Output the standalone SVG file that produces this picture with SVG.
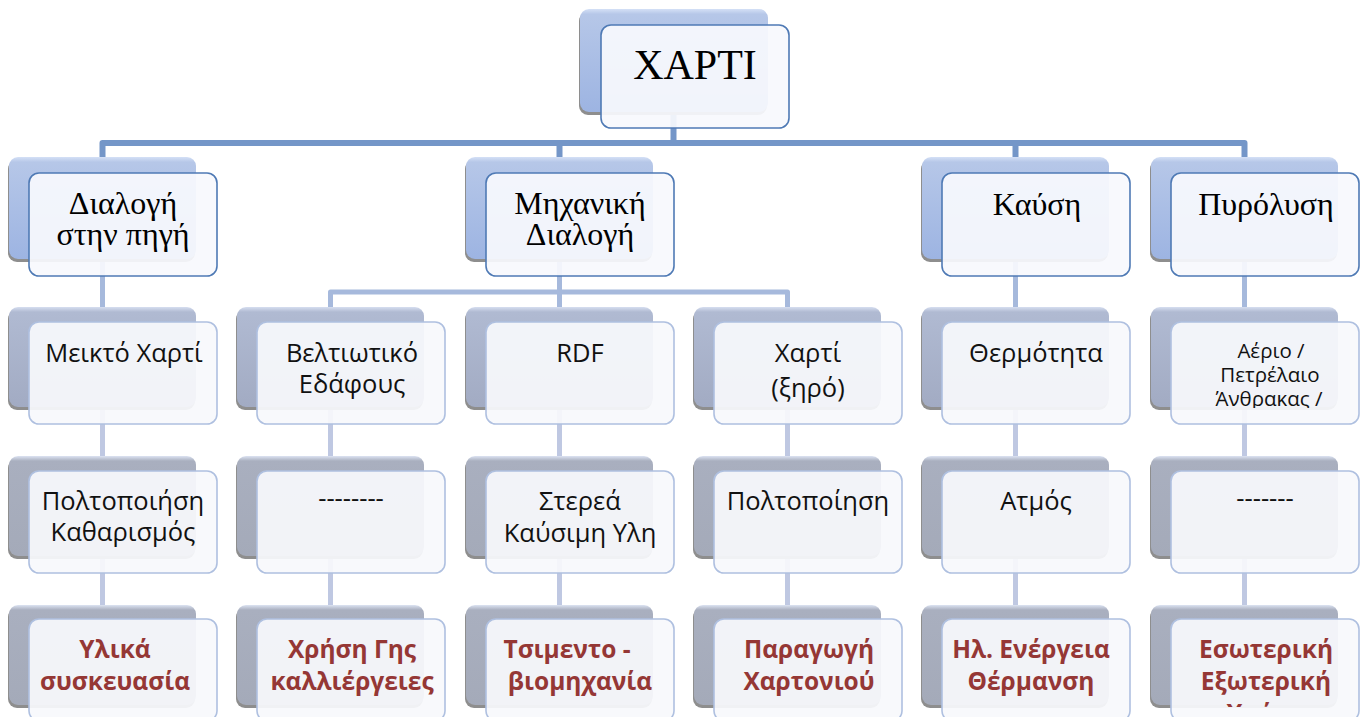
<svg xmlns="http://www.w3.org/2000/svg" width="1365" height="717" viewBox="0 0 1365 717">
  <defs>
    <linearGradient id="gBlue" x1="0" y1="0" x2="0" y2="1">
      <stop offset="0" stop-color="#d4e0f6"/>
      <stop offset="0.05" stop-color="#b6c7e8"/>
      <stop offset="1" stop-color="#9db4e2"/>
    </linearGradient>
    <linearGradient id="gSlate" x1="0" y1="0" x2="0" y2="1">
      <stop offset="0" stop-color="#d6def0"/>
      <stop offset="0.05" stop-color="#b0bad2"/>
      <stop offset="1" stop-color="#a2abc3"/>
    </linearGradient>
    <linearGradient id="gGray" x1="0" y1="0" x2="0" y2="1">
      <stop offset="0" stop-color="#dce3f2"/>
      <stop offset="0.05" stop-color="#a9afbf"/>
      <stop offset="1" stop-color="#a4aab9"/>
    </linearGradient>
    <clipPath id="clipL2"><rect x="0" y="300" width="1365" height="108"/></clipPath>
    <clipPath id="clipL4"><rect x="0" y="600" width="1365" height="107"/></clipPath>
  </defs>
  <style>
    .shadow { fill: #8e8e8e; }
    .back-blue { fill: url(#gBlue); }
    .back-slate { fill: url(#gSlate); }
    .back-gray { fill: url(#gGray); }
    .front-main { fill: #f8f9fd; fill-opacity: 0.93; stroke: #4f7ab5; stroke-width: 1.6; }
    .front-sub { fill: #f8f9fc; fill-opacity: 0.93; stroke: #afc0e0; stroke-width: 1.6; }
    .serif { font-family: "Liberation Serif", "Times New Roman", serif; fill: #000; text-anchor: middle; }
    .sans { font-family: "Open Sans", "Noto Sans", sans-serif; font-size: 25.5px; fill: #111; text-anchor: middle; }
    .small { font-size: 20.5px; }
    .result { font-family: "Open Sans", "Noto Sans", sans-serif; font-size: 24.5px; font-weight: bold; fill: #953735; text-anchor: middle; }
    .conn-main { fill: none; stroke: #7496c8; stroke-width: 6; stroke-linejoin: round; }
    .conn-mid { fill: none; stroke: #a6b9dc; stroke-width: 5; stroke-linejoin: round; }
    .conn-low { fill: none; stroke: #bfc8e2; stroke-width: 5; }
  </style>

  <!-- connectors -->
  <g id="connectors">
    <path class="conn-main" d="M673.5 113 V143 H102.5 V160 M673.5 143 H1244.5 V160 M559.5 143 V160 M1015.5 143 V160"/>
    <path class="conn-mid" d="M102.5 259 V310 M559.5 259 V292 H330.5 V310 M559.5 292 H787.5 V310 M559.5 292 V310 M1015.5 259 V310 M1244.5 259 V310"/>
    <path class="conn-low" d="M102.5 405 V460 M330.5 405 V460 M559.5 405 V460 M787.5 405 V460 M1015.5 405 V460 M1244.5 405 V460
                              M102.5 555 V608 M330.5 555 V608 M559.5 555 V608 M787.5 555 V608 M1015.5 555 V608 M1244.5 555 V608"/>
  </g>

  <!-- root -->
  <g id="node-root">
    <rect class="shadow" x="579" y="12" width="188" height="103" rx="9"/>
    <rect class="back-blue" x="580" y="9" width="188" height="103" rx="9"/>
    <rect class="front-main" x="601" y="25" width="188" height="103" rx="10"/>
    <text class="serif" x="695" y="79" font-size="42">ΧΑΡΤΙ</text>
  </g>

  <!-- level 1 -->
  <g id="node-source-sorting">
    <rect class="shadow" x="8" y="160" width="187" height="102" rx="9"/>
    <rect class="back-blue" x="9" y="157" width="187" height="102" rx="9"/>
    <rect class="front-main" x="29" y="173" width="188" height="103" rx="10"/>
    <text class="serif" font-size="32"><tspan x="123" y="214">Διαλογή</tspan><tspan x="123" y="245">στην πηγή</tspan></text>
  </g>
  <g id="node-mechanical-sorting">
    <rect class="shadow" x="465" y="160" width="187" height="102" rx="9"/>
    <rect class="back-blue" x="466" y="157" width="187" height="102" rx="9"/>
    <rect class="front-main" x="486" y="173" width="188" height="103" rx="10"/>
    <text class="serif" font-size="32"><tspan x="580" y="214">Μηχανική</tspan><tspan x="580" y="245">Διαλογή</tspan></text>
  </g>
  <g id="node-combustion">
    <rect class="shadow" x="921" y="160" width="187" height="102" rx="9"/>
    <rect class="back-blue" x="922" y="157" width="187" height="102" rx="9"/>
    <rect class="front-main" x="942" y="173" width="188" height="103" rx="10"/>
    <text class="serif" font-size="32" x="1037" y="215">Καύση</text>
  </g>
  <g id="node-pyrolysis">
    <rect class="shadow" x="1150" y="160" width="187" height="102" rx="9"/>
    <rect class="back-blue" x="1151" y="157" width="187" height="102" rx="9"/>
    <rect class="front-main" x="1171" y="173" width="188" height="103" rx="10"/>
    <text class="serif" font-size="32" x="1266" y="215">Πυρόλυση</text>
  </g>

  <!-- level 2 -->
  <g id="node-mixed-paper">
    <rect class="shadow" x="8" y="310" width="187" height="100" rx="9"/>
    <rect class="back-slate" x="9" y="307" width="187" height="100" rx="9"/>
    <rect class="front-sub" x="29" y="322" width="188" height="102" rx="10"/>
    <text class="sans" x="124" y="362" clip-path="url(#clipL2)">Μεικτό Χαρτί</text>
  </g>
  <g id="node-soil-improver">
    <rect class="shadow" x="236" y="310" width="187" height="100" rx="9"/>
    <rect class="back-slate" x="237" y="307" width="187" height="100" rx="9"/>
    <rect class="front-sub" x="257" y="322" width="188" height="102" rx="10"/>
    <text class="sans" clip-path="url(#clipL2)"><tspan x="352" y="362">Βελτιωτικό</tspan><tspan x="352" y="393">Εδάφους</tspan></text>
  </g>
  <g id="node-rdf">
    <rect class="shadow" x="465" y="310" width="187" height="100" rx="9"/>
    <rect class="back-slate" x="466" y="307" width="187" height="100" rx="9"/>
    <rect class="front-sub" x="486" y="322" width="188" height="102" rx="10"/>
    <text class="sans" x="580" y="362" clip-path="url(#clipL2)">RDF</text>
  </g>
  <g id="node-dry-paper">
    <rect class="shadow" x="693" y="310" width="187" height="100" rx="9"/>
    <rect class="back-slate" x="694" y="307" width="187" height="100" rx="9"/>
    <rect class="front-sub" x="714" y="322" width="188" height="102" rx="10"/>
    <text class="sans" clip-path="url(#clipL2)"><tspan x="808" y="362">Χαρτί</tspan><tspan x="808" y="397">(ξηρό)</tspan></text>
  </g>
  <g id="node-heat">
    <rect class="shadow" x="921" y="310" width="187" height="100" rx="9"/>
    <rect class="back-slate" x="922" y="307" width="187" height="100" rx="9"/>
    <rect class="front-sub" x="942" y="322" width="188" height="102" rx="10"/>
    <text class="sans" x="1036" y="362" clip-path="url(#clipL2)">Θερμότητα</text>
  </g>
  <g id="node-gas-oil">
    <rect class="shadow" x="1150" y="310" width="187" height="100" rx="9"/>
    <rect class="back-slate" x="1151" y="307" width="187" height="100" rx="9"/>
    <rect class="front-sub" x="1171" y="322" width="188" height="102" rx="10"/>
    <text class="sans small" clip-path="url(#clipL2)"><tspan x="1271" y="358">Αέριο /</tspan><tspan x="1270" y="382">Πετρέλαιο</tspan><tspan x="1269" y="406">Άνθρακας /</tspan></text>
  </g>

  <!-- level 3 -->
  <g id="node-pulping-cleaning">
    <rect class="shadow" x="8" y="459" width="187" height="100" rx="9"/>
    <rect class="back-gray" x="9" y="456" width="187" height="100" rx="9"/>
    <rect class="front-sub" x="29" y="471" width="188" height="102" rx="10"/>
    <text class="sans"><tspan x="123" y="510">Πολτοποιήση</tspan><tspan x="123" y="541">Καθαρισμός</tspan></text>
  </g>
  <g id="node-soil-step">
    <rect class="shadow" x="236" y="459" width="187" height="100" rx="9"/>
    <rect class="back-gray" x="237" y="456" width="187" height="100" rx="9"/>
    <rect class="front-sub" x="257" y="471" width="188" height="102" rx="10"/>
    <text class="sans" x="351" y="507">--------</text>
  </g>
  <g id="node-solid-fuel">
    <rect class="shadow" x="465" y="459" width="187" height="100" rx="9"/>
    <rect class="back-gray" x="466" y="456" width="187" height="100" rx="9"/>
    <rect class="front-sub" x="486" y="471" width="188" height="102" rx="10"/>
    <text class="sans"><tspan x="580" y="510">Στερεά</tspan><tspan x="580" y="542">Καύσιμη Υλη</tspan></text>
  </g>
  <g id="node-pulping">
    <rect class="shadow" x="693" y="459" width="187" height="100" rx="9"/>
    <rect class="back-gray" x="694" y="456" width="187" height="100" rx="9"/>
    <rect class="front-sub" x="714" y="471" width="188" height="102" rx="10"/>
    <text class="sans" x="808" y="510">Πολτοποίηση</text>
  </g>
  <g id="node-steam">
    <rect class="shadow" x="921" y="459" width="187" height="100" rx="9"/>
    <rect class="back-gray" x="922" y="456" width="187" height="100" rx="9"/>
    <rect class="front-sub" x="942" y="471" width="188" height="102" rx="10"/>
    <text class="sans" x="1036" y="510">Ατμός</text>
  </g>
  <g id="node-pyrolysis-step">
    <rect class="shadow" x="1150" y="459" width="187" height="100" rx="9"/>
    <rect class="back-gray" x="1151" y="456" width="187" height="100" rx="9"/>
    <rect class="front-sub" x="1171" y="471" width="188" height="102" rx="10"/>
    <text class="sans" x="1265" y="507">-------</text>
  </g>

  <!-- level 4 -->
  <g id="node-packaging">
    <rect class="shadow" x="8" y="608" width="187" height="100" rx="9"/>
    <rect class="back-gray" x="9" y="605" width="187" height="100" rx="9"/>
    <rect class="front-sub" x="29" y="619" width="188" height="102" rx="10"/>
    <text class="result" clip-path="url(#clipL4)"><tspan x="115" y="658">Υλικά</tspan><tspan x="115" y="690">συσκευασία</tspan></text>
  </g>
  <g id="node-land-use">
    <rect class="shadow" x="236" y="608" width="187" height="100" rx="9"/>
    <rect class="back-gray" x="237" y="605" width="187" height="100" rx="9"/>
    <rect class="front-sub" x="257" y="619" width="188" height="102" rx="10"/>
    <text class="result" clip-path="url(#clipL4)"><tspan x="352" y="658">Χρήση Γης</tspan><tspan x="352" y="690">καλλιέργειες</tspan></text>
  </g>
  <g id="node-cement">
    <rect class="shadow" x="465" y="608" width="187" height="100" rx="9"/>
    <rect class="back-gray" x="466" y="605" width="187" height="100" rx="9"/>
    <rect class="front-sub" x="486" y="619" width="188" height="102" rx="10"/>
    <text class="result" clip-path="url(#clipL4)"><tspan x="567" y="658">Τσιμεντο -</tspan><tspan x="580" y="690">βιομηχανία</tspan></text>
  </g>
  <g id="node-cardboard">
    <rect class="shadow" x="693" y="608" width="187" height="100" rx="9"/>
    <rect class="back-gray" x="694" y="605" width="187" height="100" rx="9"/>
    <rect class="front-sub" x="714" y="619" width="188" height="102" rx="10"/>
    <text class="result" clip-path="url(#clipL4)"><tspan x="809" y="658">Παραγωγή</tspan><tspan x="809" y="690">Χαρτονιού</tspan></text>
  </g>
  <g id="node-energy">
    <rect class="shadow" x="921" y="608" width="187" height="100" rx="9"/>
    <rect class="back-gray" x="922" y="605" width="187" height="100" rx="9"/>
    <rect class="front-sub" x="942" y="619" width="188" height="102" rx="10"/>
    <text class="result" clip-path="url(#clipL4)"><tspan x="1031" y="658">Ηλ. Ενέργεια</tspan><tspan x="1031" y="690">Θέρμανση</tspan></text>
  </g>
  <g id="node-use">
    <rect class="shadow" x="1150" y="608" width="187" height="100" rx="9"/>
    <rect class="back-gray" x="1151" y="605" width="187" height="100" rx="9"/>
    <rect class="front-sub" x="1171" y="619" width="188" height="102" rx="10"/>
    <text class="result" clip-path="url(#clipL4)"><tspan x="1266" y="658">Εσωτερική</tspan><tspan x="1266" y="690">Εξωτερική</tspan><tspan x="1266" y="722">Χρήση</tspan></text>
  </g>
</svg>
